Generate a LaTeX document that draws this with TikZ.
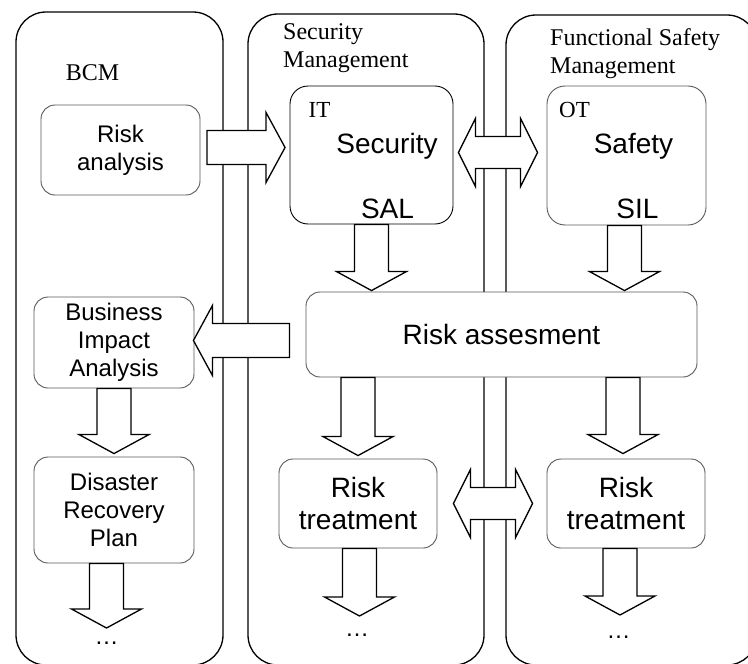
\documentclass[tikz,border=0pt]{standalone}
\usepackage{fontspec}
\setmainfont{Liberation Serif}
\setsansfont{Liberation Sans}
\usetikzlibrary{calc}

\tikzset{
  panel/.style={draw=black, line width=1.3pt, rounded corners=30pt},
  roundbox/.style={draw=black!65, fill=white, line width=0.9pt, rounded corners=14pt, inner sep=0pt, align=center, font=\sffamily\fontsize{24}{28}\selectfont},
  sanslarge/.style={font=\sffamily\fontsize{28}{32}\selectfont},
  serif/.style={font=\rmfamily\fontsize{24}{28}\selectfont, inner sep=0pt},
  ellip/.style={font=\sffamily\fontsize{24}{28}\selectfont, inner sep=0pt},
  bigarrow/.style={draw=black, fill=white, line width=1.3pt, line join=miter,
    to path={let \p1=(\tikztostart), \p2=(\tikztotarget),
      \n1={atan2(\y2-\y1,\x2-\x1)}, \n2={veclen(\x2-\x1,\y2-\y1)-19} in
      ($(\p1)+(\n1+90:17pt)$) -- ($(\p1)+(\n1:\n2)+(\n1+90:17pt)$)
      -- ($(\p1)+(\n1:\n2)+(\n1+90:35pt)$) -- (\p2)
      -- ($(\p1)+(\n1:\n2)+(\n1-90:35pt)$) -- ($(\p1)+(\n1:\n2)+(\n1-90:17pt)$)
      -- ($(\p1)+(\n1-90:17pt)$) -- cycle}},
  twinarrow/.style={draw=black, fill=white, line width=1.3pt, line join=miter,
    to path={let \p1=(\tikztostart), \p2=(\tikztotarget),
      \n1={atan2(\y2-\y1,\x2-\x1)}, \n2={veclen(\x2-\x1,\y2-\y1)-17} in
      (\p1) -- ($(\p1)+(\n1:17pt)+(\n1+90:34pt)$) -- ($(\p1)+(\n1:17pt)+(\n1+90:16pt)$)
      -- ($(\p1)+(\n1:\n2)+(\n1+90:16pt)$) -- ($(\p1)+(\n1:\n2)+(\n1+90:34pt)$)
      -- (\p2)
      -- ($(\p1)+(\n1:\n2)+(\n1-90:34pt)$) -- ($(\p1)+(\n1:\n2)+(\n1-90:16pt)$)
      -- ($(\p1)+(\n1:17pt)+(\n1-90:16pt)$) -- ($(\p1)+(\n1:17pt)+(\n1-90:34pt)$)
      -- cycle}}
}

\begin{document}
\begin{tikzpicture}[x=1pt, y=-1pt]
    \useasboundingbox (0,0) rectangle (748,664);

    \draw[panel] (16,12) rectangle (223,665);
    \draw[panel] (248,14) rectangle (484,665);
    \draw[panel] (506,15) rectangle (757,665);

    \node[serif] (bcm) at (92.5,72.5) {BCM};
    \node[serif, anchor=base west, align=left] (secman) at (283,67) {Security\\Management};
    \node[serif, anchor=base west, align=left] (fsman) at (550,73) {Functional Safety\\Management};

    \node[roundbox, minimum width=159, minimum height=90] (risk) at (120.5,150) {Risk\\analysis};
    \node[roundbox, minimum width=160, minimum height=91] (bia) at (114,342.5) {Business\\Impact\\Analysis};
    \node[roundbox, minimum width=160, minimum height=106] (drp) at (114,510) {Disaster\\Recovery\\Plan};

    \node[roundbox, draw=black, rounded corners=18pt, minimum width=163, minimum height=138] (sec) at (371.5,155) {};
    \node[serif, font=\rmfamily\fontsize{23}{27}\selectfont] (it) at (319.5,110) {IT};
    \node[sanslarge] (security) at (387,146) {Security};
    \node[sanslarge] (sal) at (387.5,208.5) {SAL};

    \node[roundbox, rounded corners=18pt, minimum width=159, minimum height=139] (safe) at (626.5,155.5) {};
    \node[serif, font=\rmfamily\fontsize{23}{27}\selectfont] (ot) at (574.5,109.5) {OT};
    \node[sanslarge] (safety) at (633.5,146.5) {Safety};
    \node[sanslarge] (sil) at (637.5,208.5) {SIL};

    \node[roundbox, sanslarge, minimum width=391, minimum height=85] (assess) at (501.5,334.5) {Risk assesment};
    \node[roundbox, sanslarge, minimum width=158, minimum height=89] (treatL) at (358,503.5) {Risk\\treatment};
    \node[roundbox, sanslarge, minimum width=158, minimum height=89] (treatR) at (626,503.5) {Risk\\treatment};

    \node[ellip] (dotsA) at (106.5,643) {…};
    \node[ellip] (dotsB) at (357,635) {…};
    \node[ellip] (dotsC) at (618.5,637) {…};

    \draw[bigarrow] ($(risk.east)+(6.5,-2.5)$) to ($(sec.west)+(-4.5,-7.5)$);
    \draw[twinarrow] ($(sec.east)+(5,-2.5)$) to ($(safe.west)+(-9,-3)$);
    \draw[bigarrow] (sec.south) to ($(sec.south |- assess.north)+(0,-1)$);
    \draw[bigarrow] ($(safe.south)+(-2,0)$) to ($(safe.south |- assess.north)+(-2,-1)$);
    \draw[bigarrow] ($(assess.west)+(-16,6)$) to ($(bia.east)+(-1,-2)$);
    \draw[bigarrow] (bia.south) to ($(drp.north)+(0,-3)$);
    \draw[bigarrow] ($(drp.south)+(-7.5,0)$) to ($(dotsA)+(0,-15)$);
    \draw[bigarrow] (treatL |- assess.south) to ($(treatL.north)+(0,-3)$);
    \draw[bigarrow] ($(treatL.south)+(1.5,0)$) to ($(dotsB)+(2.5,-19)$);
    \draw[twinarrow] ($(treatL.east)+(16,0)$) to ($(treatR.west)+(-14,0)$);
    \draw[bigarrow] ($(treatR |- assess.south)+(-3,0)$) to ($(treatR.north)+(-3,-5)$);
    \draw[bigarrow] ($(treatR.south)+(-6,0)$) to ($(dotsC)+(1.5,-22)$);

\end{tikzpicture}
\end{document}
